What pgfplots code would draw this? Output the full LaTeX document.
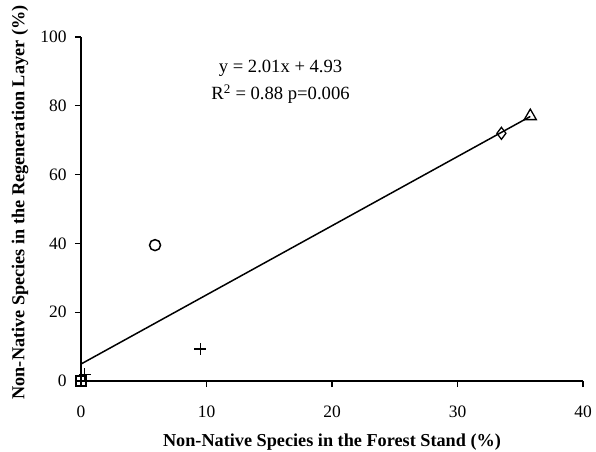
\documentclass[border=0pt]{standalone}
\usepackage{pgfplots}
\pgfplotsset{compat=1.18}
\usepackage{fontspec}
\setmainfont{Liberation Serif}
\begin{document}
\begin{tikzpicture}
\begin{axis}[
  scale only axis,
  width=502bp, height=344bp,
  xmin=0, xmax=40, ymin=0, ymax=100,
  axis lines=left,
  axis line style={-, line width=1.2pt},
  xtick={0,10,20,30,40}, ytick={0,20,40,60,80,100},
  tick align=outside,
  tick style={black, line width=1.2pt},
  major tick length=6bp,
  /pgf/number format/assume math mode=true,
  ticklabel style={font=\fontsize{17.5}{17.5}\selectfont},
  xticklabel style={yshift=-15bp},
  yticklabel style={xshift=-5bp},
  clip=false,
]
\coordinate (bl) at (rel axis cs:0,0);
\addplot[black, line width=1.5pt, no marks] coordinates {(0,4.93) (35.8,76.9)};
\addplot[only marks, mark=square, mark size=5bp, black, line width=1.2pt] coordinates {(0,0)};
\addplot[only marks, mark=+, mark size=6bp, black, line width=1.2pt] coordinates {(0.3,2) (9.5,9.3)};
\addplot[only marks, mark=o, mark size=5.5bp, black, line width=1.5pt] coordinates {(5.9,39.5)};
\addplot[only marks, mark=diamond, mark size=6bp, black, line width=1.3pt] coordinates {(33.5,72)};
\addplot[only marks, mark=triangle, mark size=7bp, black, line width=1.3pt] coordinates {(35.8,77)};
\node[align=center, font=\fontsize{18.7}{27}\selectfont] at (axis cs:15.9,86.9) {y = 2.01x + 4.93\\R\textsuperscript{2} = 0.88 p=0.006};
\node[font=\bfseries\fontsize{18.3}{18.3}\selectfont] at ([yshift=-61bp]rel axis cs:0.5,0) {Non-Native Species in the Forest Stand (\%)};
\node[rotate=90, font=\bfseries\fontsize{18.3}{18.3}\selectfont] at ([xshift=-61bp,yshift=6.5bp]rel axis cs:0,0.5) {Non-Native Species in the Regeneration Layer (\%)};
\end{axis}
\pgfresetboundingbox
\path[use as bounding box] ([shift={(-81bp,-71bp)}]bl) rectangle ([shift={(515bp,381bp)}]bl);
\end{tikzpicture}
\end{document}
